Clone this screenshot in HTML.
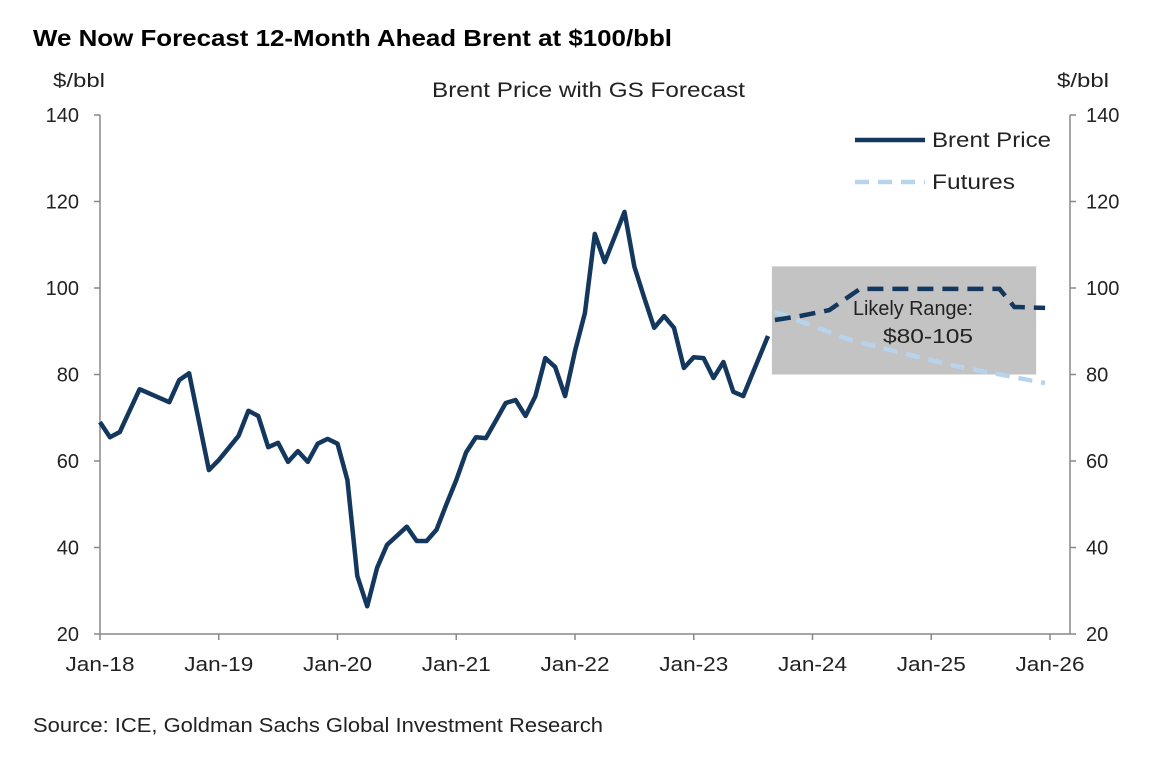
<!DOCTYPE html>
<html><head><meta charset="utf-8"><style>
body{margin:0;background:#fff;}
svg{display:block;font-family:"Liberation Sans",Arial,sans-serif;}
</style></head><body>
<svg id="c" width="1154" height="760">
<text x="33" y="46" font-size="23" font-weight="bold" fill="#000" textLength="639" lengthAdjust="spacingAndGlyphs">We Now Forecast 12-Month Ahead Brent at $100/bbl</text>
<text x="53" y="87" font-size="19" fill="#222" textLength="52" lengthAdjust="spacingAndGlyphs">$/bbl</text>
<text x="1057" y="87" font-size="19" fill="#222" textLength="52" lengthAdjust="spacingAndGlyphs">$/bbl</text>
<text x="432" y="97" font-size="21" fill="#222" textLength="313" lengthAdjust="spacingAndGlyphs">Brent Price with GS Forecast</text>
<text x="33" y="732" font-size="20" fill="#222" textLength="570" lengthAdjust="spacingAndGlyphs">Source: ICE, Goldman Sachs Global Investment Research</text>
</svg>
<script>
const yTicks=[20,40,60,80,100,120,140];
const xLabels=["Jan-18","Jan-19","Jan-20","Jan-21","Jan-22","Jan-23","Jan-24","Jan-25","Jan-26"];
const brentMonths=[0,1,2,4,7,8,9,11,12,14,15,16,17,18,19,20,21,22,23,24,25,26,27,28,29,31,32,33,34,35,36,37,38,39,40,41,42,43,44,45,46,47,48,49,50,51,53,54,55,56,57,58,59,60,61,62,63,64,65,67.5];
const brentValues=[69,65.5,66.7,76.6,73.6,78.7,80.3,57.9,60.2,65.8,71.6,70.4,63.2,64.2,59.8,62.3,59.8,64,65.1,64,55.6,33.4,26.4,35.3,40.6,44.8,41.5,41.5,44.1,50,55.6,62,65.5,65.3,69.3,73.4,74.1,70.4,75,83.8,81.7,75,85.4,94.2,112.5,106,117.6,104.9,97.7,90.8,93.5,90.8,81.5,84,83.8,79.2,82.9,76,75,88.9];
const gsMonths=[68.2,70.7,73.7,76.8,90.9,92.4,95.5];
const gsValues=[92.6,93.5,94.9,99.8,99.8,95.6,95.4];
const futMonths=[68.2,75.8,85.9,95.5];
const futValues=[94.5,88,82.2,78];
const rangeMonths=[67.9,94.6];
const rangeValues=[80,105];

const svg=document.getElementById('c');
const NS='http://www.w3.org/2000/svg';
const X=m=>100+m*118.75/12;
const Y=v=>115+(140-v)*519/120;
function mk(tag,attrs){const e=document.createElementNS(NS,tag);for(const k in attrs)e.setAttribute(k,attrs[k]);svg.appendChild(e);return e;}

const box=mk('rect',{x:X(rangeMonths[0]),y:Y(rangeValues[1]),width:X(rangeMonths[1])-X(rangeMonths[0]),height:Y(rangeValues[0])-Y(rangeValues[1]),fill:'#c3c3c3'});



const la=mk('line',{x1:100,y1:115,x2:100,y2:634,stroke:'#888','stroke-width':1.5});


const ra=mk('line',{x1:1070,y1:115,x2:1070,y2:634,stroke:'#888','stroke-width':1.5});


const xa=mk('line',{x1:100,y1:634,x2:1070,y2:634,stroke:'#888','stroke-width':1.5});



yTicks.forEach(v=>{
  mk('line',{x1:94,y1:Y(v),x2:100,y2:Y(v),stroke:'#888','stroke-width':1.5});
  mk('line',{x1:1070,y1:Y(v),x2:1076,y2:Y(v),stroke:'#888','stroke-width':1.5});
  const t=mk('text',{x:79,y:Y(v)+7,'font-size':20,'text-anchor':'end',fill:'#222'});t.textContent=v;
  
  
  const t2=mk('text',{x:1086,y:Y(v)+7,'font-size':20,fill:'#222'});t2.textContent=v;
  
  
});
xLabels.forEach((l,i)=>{
  const x=X(i*12);
  mk('line',{x1:x,y1:634,x2:x,y2:640,stroke:'#888','stroke-width':1.5});
  const t=mk('text',{x:x,y:671,'font-size':20,'text-anchor':'middle',fill:'#222',textLength:69,lengthAdjust:'spacingAndGlyphs'});t.textContent=l;
  
  
});

function path(ms,vs){return ms.map((m,i)=>(i?'L':'M')+X(m).toFixed(1)+','+Y(vs[i]).toFixed(1)).join(' ');}
const fut=mk('path',{d:path(futMonths,futValues),fill:'none',stroke:'#b7d4ec','stroke-width':4.5,'stroke-dasharray':'14,9'});


const gs=mk('path',{d:path(gsMonths,gsValues),fill:'none',stroke:'#14375e','stroke-width':4.5,'stroke-dasharray':'16,9'});


const br=mk('path',{d:path(brentMonths,brentValues),fill:'none',stroke:'#14375e','stroke-width':4.5,'stroke-linejoin':'round'});



const r1=mk('text',{x:853,y:315,'font-size':20,fill:'#222',textLength:120,lengthAdjust:'spacingAndGlyphs'});r1.textContent='Likely Range:';


const r2=mk('text',{x:883,y:343,'font-size':20,fill:'#222',textLength:90,lengthAdjust:'spacingAndGlyphs'});r2.textContent='$80-105';



const l1=mk('line',{x1:855,y1:140,x2:925,y2:140,stroke:'#14375e','stroke-width':4.5});


const lt1=mk('text',{x:932,y:147,'font-size':21,fill:'#222',textLength:119,lengthAdjust:'spacingAndGlyphs'});lt1.textContent='Brent Price';


const l2=mk('line',{x1:855,y1:182,x2:925,y2:182,stroke:'#b7d4ec','stroke-width':4.5,'stroke-dasharray':'14,9'});


const lt2=mk('text',{x:932,y:189,'font-size':21,fill:'#222',textLength:83,lengthAdjust:'spacingAndGlyphs'});lt2.textContent='Futures';


</script>
</body></html>
